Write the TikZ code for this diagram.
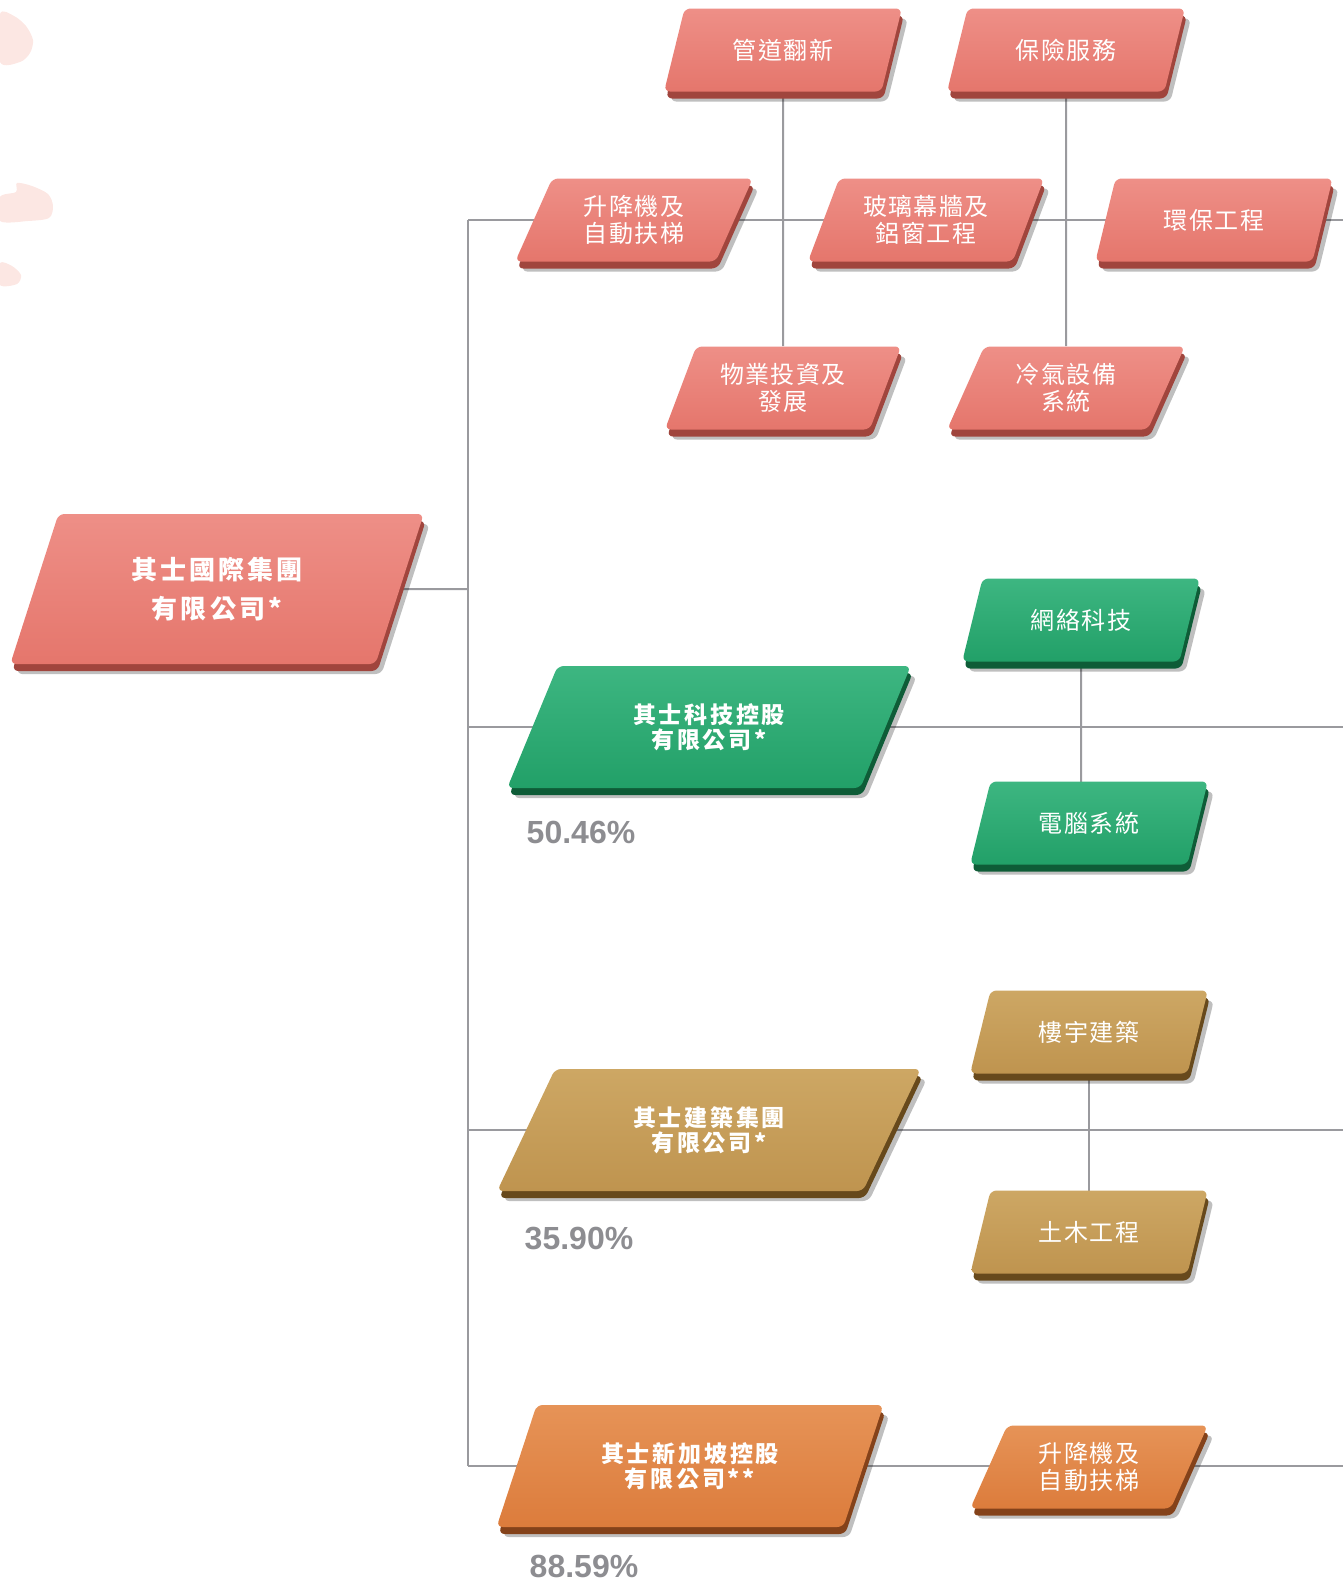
\documentclass[tikz,border=0pt]{standalone}
\usepackage{fontspec}
\setmainfont{Liberation Sans}
\newfontfamily\cjk[LetterSpace=6]{Noto Sans CJK TC}
\newfontfamily\cjkhead[LetterSpace=12]{Noto Sans CJK TC}
\usetikzlibrary{shapes.geometric,shadows,backgrounds,positioning}

\definecolor{pinkbox}{HTML}{E5766C}
\definecolor{pinktop}{HTML}{EE8F87}
\definecolor{pinkdark}{HTML}{A0453D}
\definecolor{greenbox}{HTML}{22A068}
\definecolor{greentop}{HTML}{3DB681}
\definecolor{greendark}{HTML}{0E5C37}
\definecolor{goldbox}{HTML}{BF944F}
\definecolor{goldtop}{HTML}{CDA764}
\definecolor{golddark}{HTML}{67491C}
\definecolor{orangebox}{HTML}{DC7C3C}
\definecolor{orangetop}{HTML}{E69357}
\definecolor{orangedark}{HTML}{84421A}
\definecolor{linegray}{HTML}{9A9A9E}
\definecolor{pctgray}{HTML}{8D8D91}
\definecolor{markpink}{HTML}{FCE7E3}

\tikzset{
  link/.style={draw=linegray, line width=1pt},
  slab/.style={trapezium, trapezium stretches=true, inner sep=0pt,
    rounded corners=3pt, align=center, text=white,
    drop shadow={shadow xshift=3pt, shadow yshift=-5pt, opacity=.25, fill=black}},
  unit/.style={slab, trapezium left angle=65, trapezium right angle=115,
    minimum width=119pt, minimum height=41.5pt,
    font=\cjk\fontsize{12}{13.2}\selectfont},
  firm/.style={slab, minimum height=61pt,
    font=\cjkhead\bfseries\fontsize{11.5}{12.6}\selectfont},
  pinkbox/.style={top color=pinktop, bottom color=pinkbox,
    general shadow={fill=pinkdark, shadow xshift=1pt, shadow yshift=-3.5pt}},
  greenbox/.style={top color=greentop, bottom color=greenbox,
    general shadow={fill=greendark, shadow xshift=1pt, shadow yshift=-3.5pt}},
  goldbox/.style={top color=goldtop, bottom color=goldbox,
    general shadow={fill=golddark, shadow xshift=1pt, shadow yshift=-3.5pt}},
  orangebox/.style={top color=orangetop, bottom color=orangebox,
    general shadow={fill=orangedark, shadow xshift=1pt, shadow yshift=-3.5pt}},
  pct/.style={text=pctgray, font=\bfseries\fontsize{16}{16}\selectfont}
}

\begin{document}
\begin{tikzpicture}[x=0.5pt, y=-0.5pt]
  \useasboundingbox (0,0) rectangle (1343,1585);

  % brush marks
  \fill[markpink] plot[smooth cycle] coordinates {(0,14) (14,16) (26,26) (33,40) (30,53) (20,62) (0,62)};
  \fill[markpink] plot[smooth cycle] coordinates {(0,197) (16,192) (17,183) (32,186) (48,194) (53,206) (49,218) (28,221) (0,221)};
  \fill[markpink] plot[smooth cycle] coordinates {(0,263) (12,266) (21,275) (17,284) (0,285)};

  \coordinate (spine) at (468,0);
  \coordinate (rim) at (1343,0);

  \node[slab, pinkbox, trapezium left angle=68, trapezium right angle=112,
    minimum width=207pt, minimum height=75pt,
    font=\cjkhead\bfseries\fontsize{13}{19.7}\selectfont] (group) at (217,589) {其士國際集團\\有限公司*};

  \node[unit, pinkbox] (pipe) at (783,50) {管道翻新};
  \node[unit, pinkbox] (insure) at (1066,50) {保險服務};
  \node[unit, pinkbox] (lift) at (634,220) {升降機及\\自動扶梯};
  \node[unit, pinkbox] (glass) at (926,220) {玻璃幕牆及\\鋁窗工程};
  \node[unit, pinkbox] (eco) at (1214,220) {環保工程};
  \node[unit, pinkbox] (prop) at (783,388) {物業投資及\\發展};
  \node[unit, pinkbox] (aircon) at (1066,388) {冷氣設備\\系統};

  \node[firm, greenbox, trapezium left angle=62, trapezium right angle=118,
    minimum width=202pt] (tech) at (709,727) {其士科技控股\\有限公司*};
  \node[pct] (techpct) at (581,832) {50.46\%};
  \node[unit, greenbox] (net) at (1081,620) {網絡科技};
  \node[unit, greenbox] (pc) at (1089,823) {電腦系統};

  \node[firm, goldbox, trapezium left angle=59, trapezium right angle=121,
    minimum width=212pt] (build) at (709,1130) {其士建築集團\\有限公司*};
  \node[pct] (buildpct) at (579,1238) {35.90\%};
  \node[unit, goldbox] (bldg) at (1089,1032) {樓宇建築};
  \node[unit, goldbox] (civil) at (1089,1232) {土木工程};

  \node[firm, orangebox, trapezium left angle=64, trapezium right angle=116,
    minimum width=193.5pt] (spore) at (690,1466) {其士新加坡控股\\有限公司**};
  \node[pct] (sporepct) at (584,1566) {88.59\%};
  \node[unit, orangebox] (lift2) at (1089,1467) {升降機及\\自動扶梯};

  \begin{scope}[on background layer]
    \draw[link] (lift -| spine) -- (spore -| spine);
    \draw[link] (group) -- (group -| spine);
    \draw[link] (lift -| spine) -- (lift -| rim);
    \draw[link] (pipe) -- (prop);
    \draw[link] (insure) -- (aircon);
    \draw[link] (tech -| spine) -- (tech -| rim);
    \draw[link] (net) -- (net |- pc);
    \draw[link] (build -| spine) -- (build -| rim);
    \draw[link] (bldg) -- (bldg |- civil);
    \draw[link] (spore -| spine) -- (spore -| rim);
  \end{scope}
\end{tikzpicture}
\end{document}
